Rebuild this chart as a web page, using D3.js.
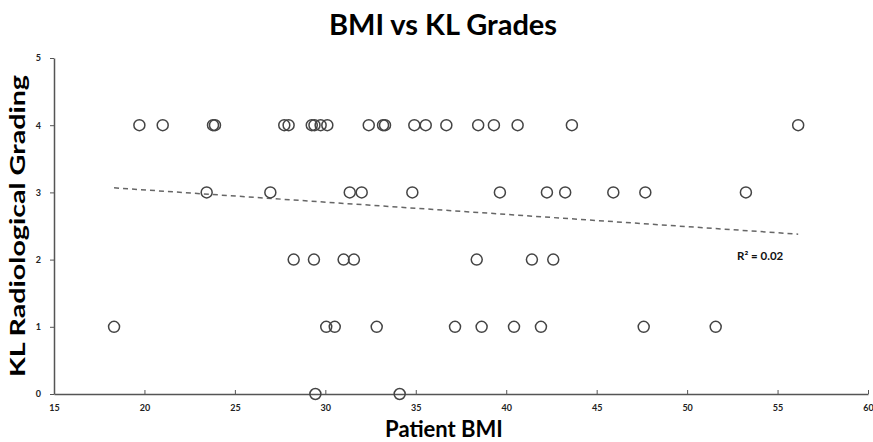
<!DOCTYPE html>
<html>
<head>
<meta charset="utf-8">
<script src="https://cdn.jsdelivr.net/npm/d3@7"></script>
<style>
  body { margin: 0; background: #fff; }
  text { font-family: Lato, "Open Sans", sans-serif; }
</style>
</head>
<body>
<script>
// BMI readings grouped by KL grade
const grade4 = [19.72, 21.01, 23.79, 23.9, 27.73, 27.97, 29.25, 29.4, 29.74, 30.11, 32.4, 33.19, 33.3,
  34.92, 35.55, 36.69, 38.45, 39.32, 40.63, 43.63, 56.14]
const grade3 = [23.44, 26.96, 31.35, 32.01, 34.81, 39.65, 42.25, 43.26, 45.92, 47.69, 53.25]
const grade2 = [28.25, 29.37, 31.01, 31.58, 38.37, 41.42, 42.6]
const grade1 = [18.32, 30.05, 30.52, 32.84, 37.17, 38.64, 40.43, 41.92, 47.6, 51.58]
const grade0 = [29.45, 34.11]
const xTicks = [15, 20, 25, 30, 35, 40, 45, 50, 55, 60]
const yTicks = [0, 1, 2, 3, 4, 5]
const rSquaredLabel = 'R² = 0.02'

const data = []
;[grade0, grade1, grade2, grade3, grade4].forEach((arr, g) => arr.forEach(b => data.push({ bmi: b, kl: g })))

const width = 873
const height = 442
const margin = { top: 58, right: 5, bottom: 48, left: 54 }

const svg = d3.select('body').append('svg')
  .attr('width', width)
  .attr('height', height)

const xScale = d3.scaleLinear()
  .domain([15, 60])
  .range([margin.left, width - margin.right])
const yScale = d3.scaleLinear()
  .domain([0, 5])
  .range([height - margin.bottom, margin.top])

const axisColor = '#555'

const xAxis = svg.append('g')
  .attr('transform', `translate(0, ${yScale(0)})`)
  .call(d3.axisBottom(xScale).tickValues(xTicks).tickFormat(d3.format('d'))
    .tickSizeInner(-4).tickSizeOuter(0).tickPadding(11))
const yAxis = svg.append('g')
  .attr('transform', `translate(${xScale(15)}, 0)`)
  .call(d3.axisLeft(yScale).tickValues(yTicks).tickFormat(d3.format('d'))
    .tickSizeInner(4).tickSizeOuter(0).tickPadding(9))

;[xAxis, yAxis].forEach(ax => {
  ax.select('.domain').attr('stroke', axisColor).attr('stroke-width', 1.5)
  ax.selectAll('.tick line').attr('stroke', axisColor).attr('stroke-width', 1)
  ax.selectAll('.tick text')
    .attr('fill', '#222')
    .style('font-family', 'Lato, sans-serif')
    .style('font-size', '9px')
    .style('font-weight', 'bold')
})

// least squares trendline
const mx = d3.mean(data, d => d.bmi)
const my = d3.mean(data, d => d.kl)
const slope = d3.sum(data, d => (d.bmi - mx) * (d.kl - my)) / d3.sum(data, d => (d.bmi - mx) ** 2)
const intercept = my - slope * mx
const xExt = d3.extent(data, d => d.bmi)

svg.append('path')
  .datum(xExt)
  .attr('d', d3.line().x(d => xScale(d)).y(d => yScale(intercept + slope * d)))
  .style('stroke', '#666')
  .style('stroke-width', 1.5)
  .style('stroke-dasharray', '5,4')
  .style('fill', 'none')

svg.selectAll('.circle')
  .data(data)
  .enter().append('circle')
  .attr('class', 'circle')
  .attr('cx', d => xScale(d.bmi))
  .attr('cy', d => yScale(d.kl))
  .attr('r', 5.5)
  .style('fill', 'none')
  .style('stroke', '#444')
  .style('stroke-width', 1.5)

svg.append('text')
  .attr('x', 737)
  .attr('y', 260)
  .style('font-size', '11.5px')
  .style('font-weight', 'bold')
  .attr('fill', '#111')
  .text(rSquaredLabel)

svg.append('text')
  .attr('x', 443)
  .attr('y', 35)
  .attr('text-anchor', 'middle')
  .style('font-size', '29px')
  .style('font-weight', 'bold')
  .attr('fill', '#000')
  .text('BMI vs KL Grades')

svg.append('text')
  .attr('x', 444)
  .attr('y', 437)
  .attr('text-anchor', 'middle')
  .style('font-size', '22px')
  .style('font-weight', 'bold')
  .attr('fill', '#000')
  .text('Patient BMI')

svg.append('text')
  .attr('transform', `translate(25, 226) rotate(-90)`)
  .attr('text-anchor', 'middle')
  .attr('textLength', 302)
  .attr('lengthAdjust', 'spacingAndGlyphs')
  .style('font-size', '21px')
  .style('font-weight', 'bold')
  .attr('fill', '#000')
  .text('KL Radiological Grading')
</script>
</body>
</html>
